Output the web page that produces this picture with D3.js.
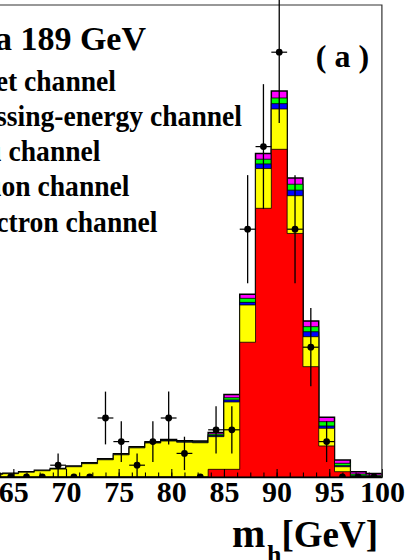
<!DOCTYPE html>
<html><head><meta charset="utf-8">
<script src="https://cdn.jsdelivr.net/npm/d3@7"></script>
<style>html,body{margin:0;padding:0;background:#fff;overflow:hidden} svg{display:block}</style>
</head><body><svg id="c" width="406" height="560"></svg>
<script>
// ---- data ----
const binCenters = [63.25, 64.75, 66.25, 67.75, 69.25, 70.75, 72.25, 73.75, 75.25, 76.75, 78.25, 79.75, 81.25, 82.75, 84.25, 85.75, 87.25, 88.75, 90.25, 91.75, 93.25, 94.75, 96.25, 97.75, 99.25];
const binWidth = 1.5;
const redValues     = [0, 0, 0, 0, 0, 0, 0, 0, 0, 0, 0, 0, 0, 0, 0.65, 0.65, 11.42, 22.77, 27.77, 20.64, 9.35, 2.63, 0.45, 0, 0];
const yellowValues  = [0.23, 0.28, 0.41, 0.53, 0.67, 0.87, 1.13, 1.46, 1.88, 2.47, 2.88, 3.05, 2.95, 2.90, 2.77, 5.71, 3.16, 3.37, 3.42, 3.20, 2.54, 1.50, 0.42, 0.05, 0.02];
const blueValues    = [0, 0.01, 0.01, 0.01, 0.01, 0.01, 0.02, 0.02, 0.02, 0.02, 0.03, 0.03, 0.03, 0.04, 0.10, 0.17, 0.22, 0.39, 0.45, 0.47, 0.42, 0.19, 0.09, 0.05, 0.03];
const greenValues   = [0.01, 0.01, 0.01, 0.01, 0.02, 0.02, 0.02, 0.03, 0.03, 0.04, 0.04, 0.04, 0.05, 0.05, 0.12, 0.19, 0.34, 0.40, 0.48, 0.50, 0.43, 0.37, 0.20, 0.15, 0.10];
const magentaValues = [0.01, 0.01, 0.02, 0.02, 0.02, 0.03, 0.03, 0.03, 0.04, 0.04, 0.04, 0.05, 0.05, 0.06, 0.13, 0.28, 0.34, 0.48, 0.59, 0.53, 0.48, 0.37, 0.28, 0.20, 0.15];
const dataCounts    = [0, 0, 0, 0, 1, 0, 0, 5, 3, 1, 3, 5, 2, 0, 4, 4, 21, 28, 36, 21, 11, 3, 0, 0, 0];
const tickLabels = [65, 70, 75, 80, 85, 90, 95, 100];
const legendLines = ["Data 189 GeV", "Four-jet channel", "Missing-energy channel", "Tau channel", "Muon channel", "Electron channel"];
const panelLabel = "( a )";

// ---- build ----
const layerKeys = ["red", "yellow", "blue", "green", "magenta"];
const layerColors = {red: "#ff0000", yellow: "#ffff00", blue: "#0000ff", green: "#00ff00", magenta: "#ff00ff"};
const table = binCenters.map((c, i) => ({
  center: c, red: redValues[i], yellow: yellowValues[i], blue: blueValues[i],
  green: greenValues[i], magenta: magentaValues[i], data: dataCounts[i]
}));

const svg = d3.select("#c");
const x = d3.scaleLinear().domain([40, 100]).range([-249.9, 381.9]);
const y = d3.scaleLinear().domain([0, 40]).range([477, 5]);
const serif = "'Liberation Serif','Times New Roman',Times,serif";

svg.append("defs").append("clipPath").attr("id", "plotclip")
  .append("rect").attr("x", -300).attr("y", -100).attr("width", 700).attr("height", y(0) + 100);

// stacked histograms
const stacked = d3.stack().keys(layerKeys)(table);
const stepPath = (layer) => {
  const pts = [[x(table[0].center - binWidth / 2), y(0)]];
  layer.forEach((d, i) => {
    const c = table[i].center;
    pts.push([x(c - binWidth / 2), y(d[1])]);
    pts.push([x(c + binWidth / 2), y(d[1])]);
  });
  pts.push([x(table[table.length - 1].center + binWidth / 2), y(0)]);
  return d3.line()(pts) + "Z";
};
const hist = svg.append("g");
for (let k = stacked.length - 1; k >= 0; k--) {
  hist.append("path")
    .attr("d", stepPath(stacked[k]))
    .attr("fill", layerColors[stacked[k].key])
    .attr("stroke", "#000")
    .attr("stroke-width", k === stacked.length - 1 ? 1.5 : 0.8)
    .attr("stroke-linejoin", "miter");
}

// axis
const minorTicks = d3.range(40, 100.001, 1.25);
const axMinor = svg.append("g").attr("transform", `translate(0,${y(0)})`)
  .call(d3.axisBottom(x).tickValues(minorTicks).tickSize(-4.5).tickSizeOuter(0).tickFormat(""));
axMinor.select(".domain").attr("stroke", "#000").attr("stroke-width", 1.6);
axMinor.selectAll(".tick line").attr("stroke", "#000").attr("stroke-width", 1.1);
const axMajor = svg.append("g").attr("transform", `translate(0,${y(0)})`)
  .call(d3.axisBottom(x).tickValues(tickLabels).tickSize(-8).tickSizeOuter(0).tickPadding(3.6).tickFormat(d3.format("d")));
axMajor.select(".domain").remove();
axMajor.selectAll(".tick line").attr("stroke", "#000").attr("stroke-width", 1.1);
axMajor.selectAll(".tick text")
  .attr("font-family", serif).attr("font-weight", "bold").attr("font-size", 30).attr("fill", "#000");

// frame (top & right)
svg.append("path")
  .attr("d", `M${x(40)},${y(40)}H${x(100)}V${y(0)}`)
  .attr("fill", "none").attr("stroke", "#333").attr("stroke-width", 1.2);

// data points
const dg = svg.append("g").attr("clip-path", "url(#plotclip)");
table.forEach(d => {
  const cx = x(d.center), cy = y(d.data);
  if (d.data > 0) {
    const e = Math.sqrt(d.data);
    dg.append("line").attr("x1", cx).attr("x2", cx).attr("y1", y(d.data + e)).attr("y2", y(d.data - e))
      .attr("stroke", "#000").attr("stroke-width", 1.3);
    dg.append("line").attr("x1", x(d.center - binWidth / 2)).attr("x2", x(d.center + binWidth / 2))
      .attr("y1", cy).attr("y2", cy).attr("stroke", "#000").attr("stroke-width", 1.2);
  }
  dg.append("circle").attr("cx", cx).attr("cy", cy).attr("r", 3.4).attr("fill", "#000");
});

// legend text (left part cropped)
const legendSpec = [
  {end: 146, base: 49.5, size: 34, sx: 1.0},
  {end: 116, base: 90.7, size: 30, sx: 0.92},
  {end: 242, base: 125.9, size: 30, sx: 0.92},
  {end: 100.5, base: 161.1, size: 30, sx: 0.92},
  {end: 129.5, base: 196.3, size: 30, sx: 0.92},
  {end: 157.5, base: 231.5, size: 30, sx: 0.92}
];
legendLines.forEach((t, i) => {
  const s = legendSpec[i];
  svg.append("text").attr("transform", `translate(${s.end},${s.base}) scale(${s.sx},1)`)
    .attr("text-anchor", "end").attr("font-family", serif).attr("font-weight", "bold")
    .attr("font-size", s.size).attr("fill", "#000").text(t);
});

svg.append("text").attr("x", 342.5).attr("y", 66.5).attr("text-anchor", "middle")
  .attr("font-family", serif).attr("font-weight", "bold").attr("font-size", 32).attr("fill", "#000")
  .text(panelLabel);

// axis title m_h[GeV]
const title = svg.append("text").attr("font-family", serif).attr("font-weight", "bold").attr("fill", "#000");
title.append("tspan").attr("x", 232).attr("y", 547).attr("font-size", 40).text("m");
title.append("tspan").attr("x", 267).attr("y", 563).attr("font-size", 26).text("h");
title.append("tspan").attr("x", 281.5).attr("y", 547).attr("font-size", 37).text("[GeV]");
</script></body></html>
